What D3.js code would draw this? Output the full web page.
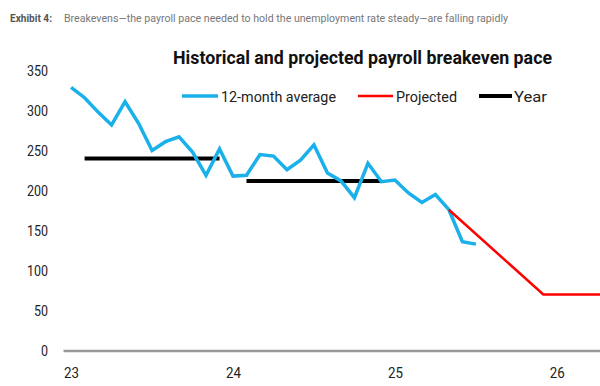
<!DOCTYPE html>
<html>
<head>
<meta charset="utf-8">
<script src="https://cdn.jsdelivr.net/npm/d3@7"></script>
<style>
  body { margin: 0; background: #fff; }
  svg { display: block; font-family: Roboto, "Noto Sans", sans-serif; }
</style>
</head>
<body>
<div id="chart"></div>
<script>
const width = 600;
const height = 386;

// 12-month average, monthly from Jan 2023
const histStart = "2023-01";
const histValues = [329, 316, 298, 282, 311, 284, 250, 261, 267, 248, 219, 252,
                    218, 219, 245, 243, 226, 238, 257, 222, 212, 191, 234, 211,
                    213, 197, 185, 195, 176, 136, 133];
// projected path
const projMonths = ["2025-05", "2025-12", "2026-05"];
const projValues = [176, 70, 70];
// yearly averages (drawn Feb..Dec)
const yearStart = ["2023-02", "2024-02"];
const yearEnd = ["2023-12", "2024-12"];
const yearValues = [240, 212];

const yTicks = [0, 50, 100, 150, 200, 250, 300, 350];
const xTicks = ["2023-01", "2024-01", "2025-01", "2026-01"];
const xTickLabels = ["23", "24", "25", "26"];

const title = "Historical and projected payroll breakeven pace";
const legendItems = [
    {label: "12-month average", color: "#1ab0ea", w: 3.5, x: 182, x2: 218, tx: 221, tl: 115},
    {label: "Projected", color: "#ff0000", w: 2.5, x: 358, x2: 393, tx: 396, tl: 61},
    {label: "Year", color: "#000000", w: 4, x: 479, x2: 512, tx: 514, tl: 33}
];

// 月番号に変換 (Jan 2023 = 0)
const monthIdx = s => {
    const [y, m] = s.split("-").map(Number);
    return (y - 2023) * 12 + (m - 1);
};
const base = monthIdx(histStart);

const x = d3.scaleLinear().domain([-0.6, 39.2]).range([63, 600]);
const y = d3.scaleLinear().domain([0, 350]).range([350.5, 70.5]);

const svg = d3.create("svg")
    .attr("width", width)
    .attr("height", height)
    .attr("viewBox", [0, 0, width, height]);

// header
svg.append("text")
    .attr("x", 10).attr("y", 21.5)
    .attr("font-size", 11).attr("font-weight", "bold")
    .attr("fill", "#555")
    .attr("textLength", 42).attr("lengthAdjust", "spacingAndGlyphs")
    .text("Exhibit 4:");
svg.append("text")
    .attr("x", 64).attr("y", 21.5)
    .attr("font-size", 11)
    .attr("fill", "#777")
    .attr("textLength", 444).attr("lengthAdjust", "spacingAndGlyphs")
    .text("Breakevens\u2014the payroll pace needed to hold the unemployment rate steady\u2014are falling rapidly");

// title
svg.append("text")
    .attr("x", 173).attr("y", 63.5)
    .attr("font-size", 18.5).attr("font-weight", "bold")
    .attr("fill", "#111")
    .attr("textLength", 379).attr("lengthAdjust", "spacingAndGlyphs")
    .text(title);

// legend
const lg = svg.append("g").attr("class", "legend");
legendItems.forEach(d => {
    lg.append("line")
        .attr("x1", d.x).attr("x2", d.x2)
        .attr("y1", 96).attr("y2", 96)
        .attr("stroke", d.color).attr("stroke-width", d.w);
    lg.append("text")
        .attr("x", d.tx).attr("y", 101.5)
        .attr("font-size", 15.5).attr("fill", "#222")
        .attr("textLength", d.tl).attr("lengthAdjust", "spacingAndGlyphs")
        .text(d.label);
});

// y axis
const yAxis = svg.append("g")
    .attr("transform", "translate(63,0)")
    .call(d3.axisLeft(y).tickValues(yTicks).tickSize(0).tickPadding(15));
yAxis.select(".domain").remove();
yAxis.selectAll("text")
    .attr("font-size", 15.5).attr("fill", "#222").attr("font-family", "Roboto")
    .attr("textLength", d => String(d).length * 7)
    .attr("lengthAdjust", "spacingAndGlyphs");

// x axis
const xAxis = svg.append("g")
    .attr("transform", `translate(0,${y(0)})`)
    .call(d3.axisBottom(x)
        .tickValues(xTicks.map(monthIdx))
        .tickFormat((d, i) => xTickLabels[i])
        .tickSize(0).tickSizeOuter(0).tickPadding(16));
xAxis.select(".domain").attr("stroke", "#999").attr("stroke-width", 2.5);
xAxis.selectAll("text")
    .attr("font-size", 15.5).attr("fill", "#222").attr("font-family", "Roboto")
    .attr("textLength", 15).attr("lengthAdjust", "spacingAndGlyphs");

// year lines
svg.append("g")
    .selectAll("line")
    .data(yearValues)
    .join("line")
        .attr("x1", (d, i) => x(monthIdx(yearStart[i])))
        .attr("x2", (d, i) => x(monthIdx(yearEnd[i])))
        .attr("y1", d => y(d))
        .attr("y2", d => y(d))
        .attr("stroke", "#000")
        .attr("stroke-width", 4);

// 12-month average
const line = d3.line()
    .x(d => x(d[0]))
    .y(d => y(d[1]));

svg.append("path")
    .datum(histValues.map((v, i) => [base + i, v]))
    .attr("fill", "none")
    .attr("stroke", "#1ab0ea")
    .attr("stroke-width", 3.5)
    .attr("stroke-linejoin", "miter")
    .attr("d", line);

// projected
svg.append("path")
    .datum(projValues.map((v, i) => [monthIdx(projMonths[i]), v]))
    .attr("fill", "none")
    .attr("stroke", "#ff0000")
    .attr("stroke-width", 2.5)
    .attr("d", line);

document.getElementById("chart").append(svg.node());
</script>
</body>
</html>
